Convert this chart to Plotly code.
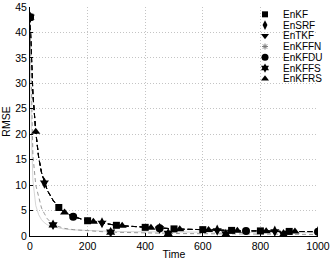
import plotly.graph_objects as go

# ---------------- data ----------------
time = [0, 5, 10, 20, 30, 40, 50, 60, 80, 100, 120, 150, 200, 220, 250, 280, 300, 320,
        350, 400, 420, 450, 480, 500, 520, 600, 620, 650, 680, 700, 720, 750, 800, 820,
        850, 880, 900, 920, 1000]

enkf = [43, 34, 28, 20.5, 15.5, 12.5, 10.5, 9.0, 7.0, 5.6, 4.6, 3.8, 3.0, 2.8, 2.6, 2.3, 2.1, 2.0,
        1.9, 1.7, 1.6, 1.5, 1.45, 1.4, 1.35, 1.25, 1.2, 1.15, 1.1, 1.1, 1.05, 1.0, 1.0, 0.95,
        0.95, 0.9, 0.9, 0.9, 0.85]
ensrf = [43, 34, 28, 20.4, 15.4, 12.4, 10.4, 8.9, 7.0, 5.5, 4.6, 3.8, 3.0, 2.8, 2.6, 2.3, 2.1, 2.0,
         1.9, 1.7, 1.6, 1.5, 1.45, 1.4, 1.35, 1.25, 1.2, 1.15, 1.1, 1.1, 1.05, 1.0, 1.0, 0.95,
         0.95, 0.9, 0.9, 0.9, 0.85]
entkf = [43, 34, 28, 20.5, 15.5, 12.4, 10.5, 9.0, 7.0, 5.6, 4.6, 3.8, 3.0, 2.8, 2.6, 2.3, 2.1, 2.0,
         1.9, 1.7, 1.6, 1.5, 1.45, 1.4, 1.35, 1.25, 1.2, 1.15, 1.1, 1.1, 1.05, 1.0, 1.0, 0.95,
         0.95, 0.9, 0.9, 0.9, 0.85]
enkffn = [43, 20, 11, 6.0, 4.2, 3.2, 2.6, 2.2, 1.8, 1.5, 1.35, 1.2, 1.05, 1.0, 0.95, 0.9, 0.88, 0.86,
          0.84, 0.8, 0.8, 0.78, 0.77, 0.76, 0.76, 0.74, 0.74, 0.73, 0.72, 0.72, 0.71, 0.7, 0.7, 0.7,
          0.69, 0.69, 0.68, 0.68, 0.67]
enkfdu = [43, 34, 28, 20.5, 15.6, 12.5, 10.5, 9.0, 7.1, 5.6, 4.7, 3.8, 3.0, 2.8, 2.6, 2.3, 2.1, 2.0,
          1.9, 1.7, 1.6, 1.5, 1.45, 1.4, 1.35, 1.25, 1.2, 1.15, 1.1, 1.1, 1.05, 1.0, 1.0, 0.95,
          0.95, 0.9, 0.9, 0.9, 0.85]
enkffs = [43, 25, 16, 10, 7.5, 5.5, 4.4, 3.4, 2.2, 1.8, 1.5, 1.25, 1.0, 0.95, 0.85, 0.75, 0.72, 0.7,
          0.65, 0.6, 0.58, 0.55, 0.5, 0.5, 0.48, 0.45, 0.45, 0.42, 0.4, 0.4, 0.4, 0.38, 0.37, 0.36,
          0.35, 0.35, 0.34, 0.33, 0.3]
enkfrs = [43, 34, 28, 20.5, 15.5, 12.5, 10.5, 9.0, 7.0, 5.6, 4.6, 3.8, 3.0, 2.8, 2.6, 2.3, 2.1, 2.0,
          1.9, 1.7, 1.6, 1.5, 1.45, 1.4, 1.35, 1.25, 1.2, 1.15, 1.1, 1.1, 1.05, 1.0, 1.0, 0.95,
          0.95, 0.9, 0.9, 0.9, 0.85]

# times at which each series carries a marker
mk_enkf = [0, 100, 200, 300, 400, 500, 600, 700, 800, 900]
mk_ensrf = [0, 50, 250, 450, 650, 850, 1000]
mk_entkf = [0, 50, 250, 450, 650, 850]
mk_enkffn = [0]
mk_enkfdu = [0, 150, 450, 750, 1000]
mk_enkffs = [0, 80, 280, 480, 680, 880]
mk_enkfrs = [20, 120, 220, 320, 420, 520, 620, 720, 820, 920]

names = ["EnKF", "EnSRF", "EnTKF", "EnKFFN", "EnKFDU", "EnKFFS", "EnKFRS"]
x_ticks = [0, 200, 400, 600, 800, 1000]
y_ticks = [0, 5, 10, 15, 20, 25, 30, 35, 40, 45]

# ---------------- styles ----------------
DASH = "5px,3px"
series = [
    (enkf, mk_enkf, "square", 7, "black", dict(color="black", width=0.8, dash=DASH)),
    (ensrf, mk_ensrf, "diamond-tall", 8, "black", dict(color="black", width=0.8, dash=DASH)),
    (entkf, mk_entkf, "triangle-down", 8, "black", dict(color="black", width=0.8, dash=DASH)),
    (enkffn, mk_enkffn, "asterisk-open", 6, "#777777", dict(color="#cccccc", width=0.8, dash="solid")),
    (enkfdu, mk_enkfdu, "circle", 8, "black", dict(color="black", width=0.8, dash=DASH)),
    (enkffs, mk_enkffs, "hexagram", 8, "black", dict(color="#808080", width=0.8, dash="4px,3px")),
    (enkfrs, mk_enkfrs, "triangle-up", 8, "black", dict(color="black", width=0.8, dash=DASH)),
]

FONT = "Liberation Sans, Arial, Helvetica, sans-serif"
fig = go.Figure()

for name, (vals, mks, sym, size, mcol, line) in zip(names, series):
    fig.add_trace(go.Scatter(x=time, y=vals, mode="lines", line=line,
                             showlegend=False, hoverinfo="skip"))
for name, (vals, mks, sym, size, mcol, line) in zip(names, series):
    mx = [t for t in mks]
    my = [vals[time.index(t)] for t in mks]
    mline = dict(width=1, color=mcol) if sym.endswith("open") else dict(width=0)
    fig.add_trace(go.Scatter(x=mx, y=my, mode="markers", name=name, showlegend=False,
                             marker=dict(symbol=sym, size=size, color=mcol, line=mline)))

# ---------------- custom compact legend (MATLAB-like) ----------------
leg_x = 0.816
leg_top = 0.968
leg_step = 0.0469
leg_y = [leg_top - i * leg_step for i in range(len(names))]
for i, (name, (vals, mks, sym, size, mcol, line)) in enumerate(zip(names, series)):
    mline = dict(width=1, color=mcol) if sym.endswith("open") else dict(width=0)
    fig.add_trace(go.Scatter(x=[leg_x], y=[leg_y[i]], xaxis="x2", yaxis="y2", mode="markers",
                             showlegend=False, hoverinfo="skip",
                             marker=dict(symbol=sym, size=size - 1, color=mcol, line=mline)))
    fig.add_annotation(x=leg_x + 0.055, y=leg_y[i], xref="x2", yref="y2", text=name,
                       showarrow=False, xanchor="left", yanchor="middle",
                       font=dict(family=FONT, size=10, color="black"))

axis_common = dict(showgrid=True, gridcolor="#c4c4c4", griddash="1px,2px", gridwidth=1,
                   zeroline=False, showline=True, linecolor="black", linewidth=1,
                   ticks="inside", ticklen=3, tickcolor="black", mirror=False,
                   automargin=False,
                   tickfont=dict(family=FONT, size=10.5, color="black"))

fig.update_layout(
    width=332, height=262,
    margin=dict(l=30, r=14, t=7, b=26),
    paper_bgcolor="white", plot_bgcolor="white",
    xaxis=dict(range=[0, 1000], tickvals=x_ticks,
               title=dict(text="Time", font=dict(family=FONT, size=10.5, color="black"), standoff=0),
               **axis_common),
    yaxis=dict(range=[0, 45], tickvals=y_ticks,
               title=dict(text="RMSE", font=dict(family=FONT, size=10.5, color="black"), standoff=2),
               **axis_common),
    xaxis2=dict(overlaying="x", range=[0, 1], visible=False),
    yaxis2=dict(overlaying="y", range=[0, 1], visible=False),
    showlegend=False,
)

fig.write_html("out.html", config={"displayModeBar": False},
               post_script="document.body.style.margin='0px';document.body.style.padding='0px';")
